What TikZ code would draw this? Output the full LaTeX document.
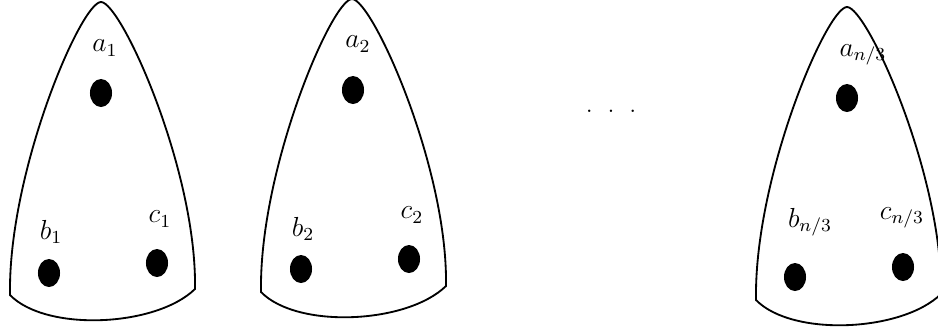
\documentclass[tikz,border=0pt]{standalone}
\usepackage{amsmath,amssymb}
\usetikzlibrary{shapes.geometric}

\begin{document}
\begin{tikzpicture}[x=0.0153cm, y=-0.0153cm, every node/.style={font=\large},
  vtx/.style={ellipse, fill=black, inner sep=0pt, minimum width=9.6pt, minimum height=12.2pt},
  lbl/.style={inner sep=0pt}]
 \useasboundingbox (0,0) rectangle (938,331);
 % the three bags
 \foreach \p in {{101,2},{352,-1},{847,7}}
  \draw[thick, shift={(\p)}] (-91,293) .. controls (-93,170) and (-20,0) .. (0,0)
     .. controls (20,0) and (96,168) .. (94,287)
     .. controls (55,325) and (-55,330) .. cycle;
 % first bag
 \node[vtx] (a1) at (101,93) {};
 \node[vtx] (b1) at (49,273) {};
 \node[vtx] (c1) at (157,263) {};
 \node[lbl] (la1) at (105,48) {$a_1$};
 \node[lbl] (lb1) at (51,232) {$b_1$};
 \node[lbl] (lc1) at (160,219) {$c_1$};
 % second bag
 \node[vtx] (a2) at (353,90) {};
 \node[vtx] (b2) at (301,269) {};
 \node[vtx] (c2) at (409,259) {};
 \node[lbl] (la2) at (358,44) {$a_2$};
 \node[lbl] (lb2) at (303,229) {$b_2$};
 \node[lbl] (lc2) at (412,215) {$c_2$};
 % dots in between
 \node[lbl, font=\normalsize] (dots) at (611,111) {.\hspace{6.7pt}.\hspace{6.7pt}.};
 % last bag
 \node[vtx] (a3) at (847,98) {};
 \node[vtx] (b3) at (795,277) {};
 \node[vtx] (c3) at (903,267) {};
 \node[lbl] (la3) at (863,55) {$a_{n/3}$};
 \node[lbl] (lb3) at (810,222) {$b_{n/3}$};
 \node[lbl] (lc3) at (902,218) {$c_{n/3}$};
\end{tikzpicture}
\end{document}
